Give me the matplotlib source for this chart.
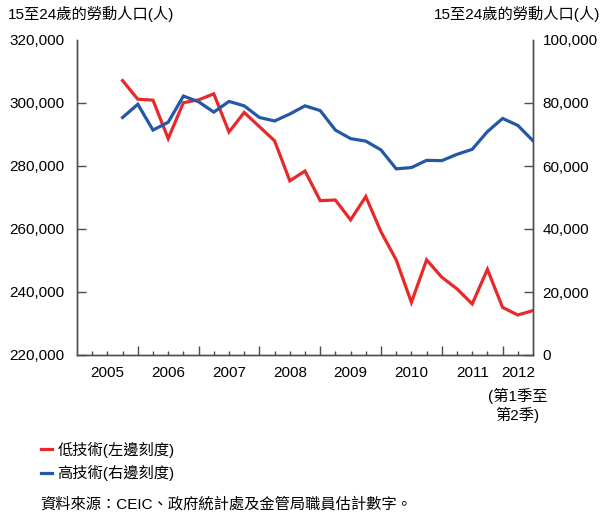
import matplotlib
matplotlib.use("Agg")
import matplotlib.pyplot as plt
from matplotlib.lines import Line2D
from matplotlib.transforms import blended_transform_factory

plt.rcParams["font.family"] = ["Liberation Sans", "Noto Sans CJK TC", "DejaVu Sans"]

# Quarterly series, 2005 Q3 to 2012 Q2 (plotted at quarter ends)
start_year = 2005
first_quarter = 3
low_skill = [
    307100, 301200, 300900, 288700, 300100, 301000, 302900, 290800,
    297000, 292500, 288000, 275300, 278400, 269000, 269200, 262900,
    270300, 259100, 250200, 236700, 250200, 244700, 241000, 236200,
    247200, 235100, 232700, 234100,
]
high_skill = [
    75400, 79600, 71400, 73900, 82200, 80400, 77100, 80500,
    79100, 75400, 74300, 76500, 79100, 77600, 71400, 68700,
    67900, 65100, 59100, 59500, 61800, 61700, 63700, 65300,
    70900, 75100, 72900, 68000,
]
years = ["2005", "2006", "2007", "2008", "2009", "2010", "2011", "2012"]
last_label_note = "(第1季至\n第2季)"

left_ticks = [220000, 240000, 260000, 280000, 300000, 320000]
right_ticks = [0, 20000, 40000, 60000, 80000, 100000]
axis_title = "15至24歲的勞動人口(人)"
legend_labels = ["低技術(左邊刻度)", "高技術(右邊刻度)"]
source_note = "資料來源：CEIC、政府統計處及金管局職員估計數字。"

RED = "#e8292b"
BLUE = "#2457a6"
SPINE = "#4d4d4d"

x = [start_year + (first_quarter + i) / 4 for i in range(len(low_skill))]

fig = plt.figure(figsize=(6.11, 5.14), dpi=100)
ax = fig.add_axes([77 / 611, 1 - 355 / 514, (533 - 77) / 611, (355 - 40) / 514])
ax2 = ax.twinx()

ax.plot(x, low_skill, color=RED, lw=2.3, solid_joinstyle="miter", zorder=3)
ax2.plot(x, high_skill, color=BLUE, lw=2.3, solid_joinstyle="miter", zorder=3)

ax.set_xlim(2005, 2012.5)
ax.set_ylim(left_ticks[0], left_ticks[-1])
ax2.set_ylim(right_ticks[0], right_ticks[-1])

for a in (ax, ax2):
    a.spines["top"].set_visible(False)
    for side in ("left", "right", "bottom"):
        a.spines[side].set_color(SPINE)
        a.spines[side].set_linewidth(1.0)

ax.set_yticks(left_ticks)
ax.set_yticklabels([f"{v:,}" for v in left_ticks])
ax2.set_yticks(right_ticks)
ax2.set_yticklabels([f"{v:,}" for v in right_ticks])
ax.tick_params(axis="y", direction="in", length=6.5, width=1, color=SPINE,
               labelsize=11, pad=9)
ax2.tick_params(axis="y", direction="in", length=6.5, width=1, color=SPINE,
                labelsize=11, pad=7)
ax.yaxis.get_major_ticks()[-1].tick1line.set_visible(False)
ax2.yaxis.get_major_ticks()[-1].tick2line.set_visible(False)

# year boundaries as major ticks, quarters as minor ticks
ax.set_xticks([start_year + k for k in range(1, 8)])
ax.set_xticklabels([])
ax.set_xticks([start_year + k / 4 for k in range(1, 30) if k % 4], minor=True)
ax.tick_params(axis="x", which="major", direction="in", length=6.5, width=1, color=SPINE)
ax.tick_params(axis="x", which="minor", direction="in", length=3, width=1, color=SPINE)

trans = blended_transform_factory(ax.transData, ax.transAxes)
for i, yr in enumerate(years):
    xc = start_year + i + 0.5 if i < len(years) - 1 else 2012.25
    ax.text(xc, -0.058, yr, transform=trans, ha="center", va="center", fontsize=11)
ax.text(2012.25, -0.16, last_label_note, transform=trans, ha="center", va="center",
        fontsize=11, linespacing=1.25)

fig.text(8 / 611, 1 - 14 / 514, axis_title, ha="left", va="center", fontsize=11)
fig.text(600 / 611, 1 - 14 / 514, axis_title, ha="right", va="center", fontsize=11)

handles = [Line2D([], [], color=RED, lw=2.3), Line2D([], [], color=BLUE, lw=2.3)]
fig.legend(handles, legend_labels, loc="upper left",
           bbox_to_anchor=(36 / 611, 1 - 437 / 514), frameon=False, fontsize=11,
           handlelength=0.75, handletextpad=0.35, labelspacing=0.45,
           borderaxespad=0, borderpad=0.3)

fig.text(40 / 611, 1 - 504 / 514, source_note, ha="left", va="center", fontsize=11)

fig.savefig("out.png", dpi=100)
